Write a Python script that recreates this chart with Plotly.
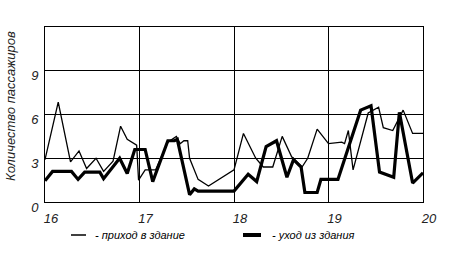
import plotly.graph_objects as go

# Data (hour of day vs. number of passengers)
arrive_x = [16.0, 16.14, 16.27, 16.36, 16.44, 16.54, 16.62, 16.72, 16.80, 16.87, 16.97, 16.99,
            17.06, 17.17, 17.30, 17.39, 17.43, 17.47, 17.51, 17.53, 17.62, 17.73, 18.0, 18.10,
            18.23, 18.31, 18.41, 18.51, 18.61, 18.72, 18.78, 18.88, 19.0, 19.14, 19.17, 19.21,
            19.26, 19.42, 19.53, 19.58, 19.68, 19.79, 19.89, 20.0]
arrive_y = [2.9, 6.85, 2.75, 3.5, 2.3, 3.0, 2.1, 2.8, 5.2, 4.3, 3.9, 1.5,
            2.2, 2.2, 4.1, 4.5, 4.0, 4.2, 4.2, 3.0, 1.55, 1.1, 2.2, 4.7,
            3.0, 2.4, 2.4, 4.5, 3.1, 2.4, 3.0, 5.0, 4.0, 4.1, 4.0, 4.9,
            2.2, 6.1, 6.5, 5.1, 4.9, 6.3, 4.7, 4.7]

leave_x = [16.0, 16.08, 16.28, 16.35, 16.42, 16.58, 16.62, 16.79, 16.87, 16.95, 17.06, 17.14,
           17.30, 17.37, 17.40, 17.53, 17.58, 17.62, 18.0, 18.15, 18.24, 18.34, 18.45, 18.56,
           18.63, 18.71, 18.75, 18.88, 18.92, 19.10, 19.34, 19.45, 19.54, 19.69, 19.75, 19.89, 20.0]
leave_y = [1.45, 2.1, 2.1, 1.55, 2.05, 2.05, 1.6, 3.0, 1.95, 3.6, 3.6, 1.4,
           4.2, 4.2, 4.3, 0.5, 0.9, 0.75, 0.75, 1.9, 1.4, 3.8, 4.2, 1.7,
           2.9, 2.4, 0.65, 0.65, 1.55, 1.55, 6.3, 6.6, 2.05, 1.7, 6.15, 1.3, 2.0]

x_ticks = [16, 17, 18, 19, 20]
y_ticks = [0, 3, 6, 9]
arrive_label = "- приход в здание"
leave_label = "- уход из здания"
y_title = "Количество пассажиров"

FONT = "Liberation Sans, Arial, sans-serif"

fig = go.Figure()
fig.add_trace(go.Scatter(x=arrive_x, y=arrive_y, mode="lines", name=arrive_label,
                         line=dict(color="black", width=1.3), showlegend=False))
fig.add_trace(go.Scatter(x=leave_x, y=leave_y, mode="lines", name=leave_label,
                         line=dict(color="black", width=3.2), showlegend=False))

W, H = 454, 255
L, R, T, B = 45, 31, 27, 53
pw, ph = W - L - R, H - T - B

def px(x):
    return (x - L) / pw

def py(y):
    return (H - B - y) / ph

# manual legend
fig.add_shape(type="line", xref="paper", yref="paper", x0=px(71), x1=px(86), y0=py(235), y1=py(235),
              line=dict(color="black", width=1.5))
fig.add_shape(type="line", xref="paper", yref="paper", x0=px(243), x1=px(261), y0=py(235), y1=py(235),
              line=dict(color="black", width=4))
fig.add_annotation(xref="paper", yref="paper", x=px(93), y=py(235), text=arrive_label, showarrow=False,
                   xanchor="left", yanchor="middle",
                   font=dict(family=FONT, size=11, color="black", style="italic"))
fig.add_annotation(xref="paper", yref="paper", x=px(270), y=py(235), text=leave_label, showarrow=False,
                   xanchor="left", yanchor="middle",
                   font=dict(family=FONT, size=11, color="black", style="italic"))
fig.add_annotation(xref="paper", yref="paper", x=px(10), y=py(106), text=y_title, showarrow=False,
                   textangle=-90, xanchor="center", yanchor="middle",
                   font=dict(family=FONT, size=13, color="#222", style="italic"))

fig.update_layout(
    width=W, height=H,
    margin=dict(l=L, r=R, t=T, b=B),
    paper_bgcolor="white", plot_bgcolor="white",
    font=dict(family=FONT, color="black"),
    xaxis=dict(range=[16, 20], tickvals=x_ticks, ticktext=[str(v) for v in x_ticks],
               showgrid=True, gridcolor="black", gridwidth=1,
               showline=True, linecolor="black", linewidth=1, mirror=True,
               zeroline=False, ticks="", ticklabelshift=6, ticklabelstandoff=4,
               tickfont=dict(family=FONT, size=13, color="#222", style="italic")),
    yaxis=dict(range=[0, 12], tickvals=y_ticks, ticktext=[str(v) for v in y_ticks],
               showgrid=True, gridcolor="black", gridwidth=1,
               showline=True, linecolor="black", linewidth=1, mirror=True,
               zeroline=False, ticks="", ticklabelshift=5, ticklabelstandoff=3,
               tickfont=dict(family=FONT, size=13, color="#222", style="italic")),
)

fig.write_html("out.html")
